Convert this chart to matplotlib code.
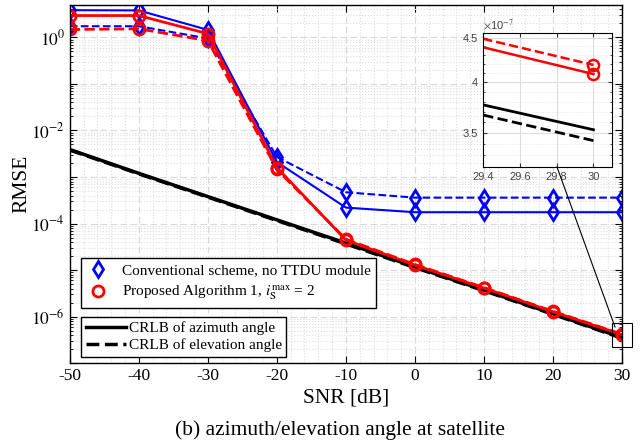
import numpy as np
import matplotlib
matplotlib.use("Agg")
import matplotlib.pyplot as plt
from matplotlib.lines import Line2D
from matplotlib.patches import Rectangle
from matplotlib.ticker import FixedLocator, NullLocator, FixedFormatter, MultipleLocator

plt.rcParams["font.family"] = ["Liberation Serif", "DejaVu Serif"]
plt.rcParams["mathtext.fontset"] = "stix"
plt.rcParams["axes.unicode_minus"] = False

snr = [-50, -40, -30, -20, -10, 0, 10, 20, 30]
conv_az = [3.85, 3.8, 1.45, 2.1e-3, 2.2e-4, 1.75e-4, 1.75e-4, 1.75e-4, 1.75e-4]
conv_el = [1.74, 1.74, 0.95, 2.7e-3, 4.7e-4, 3.6e-4, 3.6e-4, 3.6e-4, 3.6e-4]
prop_az = [2.95, 2.95, 1.2, 1.6e-3, 4.4e-5, 1.28e-5, 4.1e-6, 1.27e-6, 4.08e-7]
prop_el = [1.48, 1.53, 0.85, 1.45e-3, 4.6e-5, 1.32e-5, 4.2e-6, 1.3e-6, 4.18e-7]
crlb_az = [3.9e-3, 1.2e-3, 3.8e-4, 1.2e-4, 3.8e-5, 1.17e-5, 3.7e-6, 1.15e-6, 3.53e-7]
crlb_el = [3.8e-3, 1.17e-3, 3.7e-4, 1.16e-4, 3.65e-5, 1.13e-5, 3.6e-6, 1.12e-6, 3.42e-7]

# values
ins_x = [29.4, 30]
ins_prop_az = [4.39e-7, 4.09e-7]
ins_prop_el = [4.49e-7, 4.19e-7]
ins_crlb_az = [3.77e-7, 3.53e-7]
ins_crlb_el = [3.67e-7, 3.43e-7]

blue = "#0000ff"
red = "#ff0000"

fig = plt.figure(figsize=(6.4, 4.45), dpi=100)
ax = fig.add_axes([0.109, 0.184, 0.863, 0.805])

ax.plot(snr, crlb_az, "-", color="k", lw=2.5)
ax.plot(snr, crlb_el, "--", color="k", lw=2.5)
ax.plot(snr, conv_az, "-", color=blue, lw=1.5, marker="d", ms=8, mfc="none", mew=2)
ax.plot(snr, conv_el, "--", color=blue, lw=1.5, marker="d", ms=8, mfc="none", mew=2)
ax.plot(snr, prop_el, "--", color=red, lw=2, marker="o", ms=8, mfc="none", mew=2)
ax.plot(snr, prop_az, "-", color=red, lw=2, marker="o", ms=8, mfc="none", mew=2)

ax.set_yscale("log")
ax.set_xlim(-50, 30)
ax.set_ylim(1e-7, 5)
ax.set_xticks(snr)
ax.xaxis.set_minor_locator(MultipleLocator(2))
dec = [10.0 ** k for k in range(-7, 1)]
ax.yaxis.set_major_locator(FixedLocator(dec))
ax.yaxis.set_major_formatter(FixedFormatter(
    [("$10^{%d}$" % k) if k % 2 == 0 else "" for k in range(-7, 1)]))
ax.grid(True, which="major", ls=(0, (6, 3)), color="#d9d9d9", lw=0.8)
ax.grid(True, which="minor", ls=":", color="#dedede", lw=0.8)
ax.set_axisbelow(True)
ax.tick_params(which="both", direction="in", top=True, right=True, labelsize=12.5)
ax.tick_params(which="major", length=5)
ax.tick_params(which="minor", length=2.5)
ax.tick_params(axis="x", which="minor", length=0)
for s in ax.spines.values():
    s.set_linewidth(1)
ax.set_xlabel("SNR [dB]", fontsize=15.5, labelpad=3)
ax.set_ylabel("RMSE", fontsize=15.5, labelpad=0)

h1 = [Line2D([], [], ls="none", marker="d", color=blue, ms=8, mfc="none", mew=2),
      Line2D([], [], ls="none", marker="o", color=red, ms=8, mfc="none", mew=2)]
leg1 = fig.legend(h1, ["Conventional scheme, no TTDU module",
                       r"Proposed Algorithm 1, $\it{i}_{\rm S}^{\rm max}$ = 2"],
                  loc="upper left", bbox_to_anchor=(0.127, 0.42), fontsize=11,
                  frameon=True, fancybox=False, edgecolor="k", framealpha=1,
                  handlelength=1.5, handletextpad=0.8, borderpad=0.35, labelspacing=0.4,
                  borderaxespad=0)
leg1.get_frame().set_linewidth(1)
h2 = [Line2D([], [], ls="-", color="k", lw=2.5),
      Line2D([], [], ls="--", color="k", lw=2.5)]
leg2 = fig.legend(h2, ["CRLB of azimuth angle", "CRLB of elevation angle"],
                  loc="upper left", bbox_to_anchor=(0.127, 0.288), fontsize=11,
                  frameon=True, fancybox=False, edgecolor="k", framealpha=1,
                  handlelength=2.6, handletextpad=0.2, borderpad=0.3, labelspacing=0.2,
                  borderaxespad=0)
leg2.get_frame().set_linewidth(1)

# zoom box around the last point
zx, zy = snr[-1], prop_az[-1]
ax.add_patch(Rectangle((zx - 1.4, zy / 1.8), 2.8, zy * (1.75 - 1 / 1.8),
                       fill=False, ec="k", lw=0.8, clip_on=False, zorder=5))

# inset
ins = fig.add_axes([0.755, 0.625, 0.201, 0.301])
ins.plot(ins_x, ins_crlb_az, "-", color="k", lw=2)
ins.plot(ins_x, ins_crlb_el, "--", color="k", lw=2)
ins.plot(ins_x, ins_prop_el, "--", color=red, lw=1.8)
ins.plot(ins_x, ins_prop_az, "-", color=red, lw=1.8)
ins.plot(ins_x[-1:], ins_prop_el[-1:], "o", color=red, ms=8, mfc="none", mew=1.8, clip_on=False)
ins.plot(ins_x[-1:], ins_prop_az[-1:], "o", color=red, ms=8, mfc="none", mew=1.8, clip_on=False)
ins.set_yscale("log")
ins.set_xlim(29.4, 30.1)
ins.set_ylim(3.2e-7, 4.56e-7)
ins.set_xticks([29.4, 29.6, 29.8, 30])
ins.set_xticklabels(["29.4", "29.6", "29.8", "30"])
ins.yaxis.set_major_locator(FixedLocator([3.5e-7, 4e-7, 4.5e-7]))
ins.yaxis.set_major_formatter(FixedFormatter(["3.5", "4", "4.5"]))
ins.yaxis.set_minor_locator(FixedLocator(np.arange(3.2e-7, 4.6e-7, 0.1e-7)))
ins.yaxis.set_minor_formatter(FixedFormatter([]))
ins.grid(True, which="major", color="#dcdcdc", lw=0.8)
ins.grid(True, which="minor", ls=":", color="#e4e4e4", lw=0.6)
ins.tick_params(which="both", direction="in", top=True, right=True, labelsize=8,
                colors="#333333", labelcolor="#444444", labelfontfamily="Liberation Sans")
ins.tick_params(which="major", length=3)
ins.tick_params(which="minor", length=1.5)
ins.text(0.0, 1.01, r"$\times$10$^{-7}$", transform=ins.transAxes, fontsize=8,
         color="#444444", family="Liberation Sans", va="bottom", ha="left")

# connector line from inset to zoom box
fig.add_artist(Line2D([557 / 640, 615 / 640], [1 - 167 / 445, 1 - 327 / 445],
                      color="k", lw=0.8))

fig.text(0.531, 0.034, "(b) azimuth/elevation angle at satellite", ha="center",
         va="center", fontsize=15.5)

fig.savefig("out.png", dpi=100)
